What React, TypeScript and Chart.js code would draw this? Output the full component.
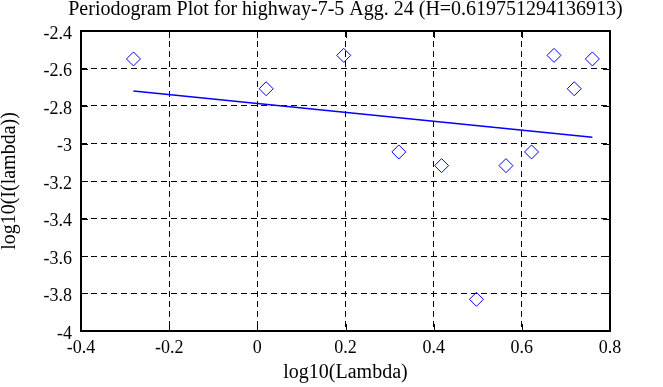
import React, { useEffect, useRef } from "react";
import { Chart, registerables } from "chart.js";

Chart.register(...registerables);

const titleText = "Periodogram Plot for highway-7-5 Agg. 24 (H=0.619751294136913)";
const xLabel = "log10(Lambda)";
const yLabel = "log10(I(lambda))";

const logLambda = [-0.281, 0.02, 0.196, 0.321, 0.418, 0.497, 0.564, 0.622, 0.673, 0.719, 0.76];
const logPeriodogram = [-2.549, -2.708, -2.53, -3.045, -3.118, -3.831, -3.118, -3.045, -2.53, -2.708, -2.549];

const fitX = [-0.281, 0.76];
const fitY = [-2.72, -2.967];

const xMin = -0.4, xMax = 0.8, xStep = 0.2;
const yMin = -4, yMax = -2.4, yStep = 0.2;

const FONT = "'Liberation Serif', 'Times New Roman', serif";

const fmt = (v: number) => {
  const r = Math.round(v * 10) / 10;
  return r === 0 ? "0" : String(r);
};

const framePlugin = {
  id: "frameTicks",
  beforeDatasetsDraw(chart: any) {
    const { ctx, chartArea } = chart;
    const { left, right, top, bottom } = chartArea;
    const xs = chart.scales.x;
    const ys = chart.scales.y;
    const len = 7;
    ctx.save();
    ctx.strokeStyle = "#000";
    ctx.lineWidth = 1;
    ctx.setLineDash([]);
    ctx.beginPath();
    xs.ticks.forEach((t: any) => {
      const px = Math.round(xs.getPixelForValue(t.value)) + 0.5;
      ctx.moveTo(px, top);
      ctx.lineTo(px, top + len);
      ctx.moveTo(px, bottom);
      ctx.lineTo(px, bottom - len);
    });
    ys.ticks.forEach((t: any) => {
      const py = Math.round(ys.getPixelForValue(t.value)) + 0.5;
      ctx.moveTo(left, py);
      ctx.lineTo(left + len, py);
      ctx.moveTo(right, py);
      ctx.lineTo(right - len, py);
    });
    ctx.stroke();
    ctx.lineWidth = 2;
    ctx.strokeRect(Math.round(left), Math.round(top), Math.round(right - left), Math.round(bottom - top));
    ctx.restore();
  },
};

const titlePlugin = {
  id: "centeredTitle",
  afterDraw(chart: any) {
    const { ctx, chartArea } = chart;
    ctx.save();
    ctx.fillStyle = "#000";
    ctx.font = `20px ${FONT}`;
    ctx.textAlign = "center";
    ctx.textBaseline = "alphabetic";
    ctx.fillText(titleText, (chartArea.left + chartArea.right) / 2, 15);
    ctx.restore();
  },
};

export default function App() {
  const ref = useRef<HTMLCanvasElement | null>(null);
  useEffect(() => {
    if (!ref.current) return;
    const chart = new Chart(ref.current, {
      type: "scatter",
      data: {
        datasets: [
          {
            label: "fit",
            type: "line",
            data: fitX.map((x, i) => ({ x, y: fitY[i] })),
            borderColor: "#0000ff",
            borderWidth: 1.5,
            pointRadius: 0,
            fill: false,
          } as any,
          {
            label: "periodogram",
            data: logLambda.map((x, i) => ({ x, y: logPeriodogram[i] })),
            pointStyle: "rectRot",
            pointRadius: 7,
            pointBorderWidth: 1,
            borderColor: "#0000ff",
            backgroundColor: "rgba(0,0,0,0)",
            pointBackgroundColor: "rgba(0,0,0,0)",
          },
        ],
      },
      options: {
        animation: false,
        responsive: false,
        maintainAspectRatio: false,
        layout: { padding: { top: 31, left: 0, right: 53, bottom: 0 } },
        plugins: {
          legend: { display: false },
          tooltip: { enabled: false },
          title: { display: false },
        },
        scales: {
          x: {
            type: "linear",
            min: xMin,
            max: xMax,
            afterFit: (s: any) => { s.height = 56; },
            ticks: {
              stepSize: xStep,
              color: "#000",
              padding: 6,
              maxRotation: 0,
              font: { family: FONT, size: 18 },
              callback: (v: any) => fmt(Number(v)),
            },
            grid: { color: "#000", lineWidth: 1, drawTicks: false, borderDash: [6, 4] } as any,
            border: { display: false, dash: [6, 4] },
            title: {
              display: true,
              text: xLabel,
              color: "#000",
              font: { family: FONT, size: 20, lineHeight: 1 },
              padding: { top: 0, bottom: 4 },
            },
          },
          y: {
            type: "linear",
            min: yMin,
            max: yMax,
            afterFit: (s: any) => { s.width = 81; },
            ticks: {
              stepSize: yStep,
              color: "#000",
              padding: 9,
              labelOffset: 3,
              font: { family: FONT, size: 18 },
              callback: (v: any) => fmt(Number(v)),
            },
            grid: { color: "#000", lineWidth: 1, drawTicks: false, borderDash: [6, 4] } as any,
            border: { display: false, dash: [6, 4] },
            title: {
              display: true,
              text: yLabel,
              color: "#000",
              font: { family: FONT, size: 20, lineHeight: 1 },
              padding: { top: 0, bottom: 0 },
            },
          },
        },
      },
      plugins: [framePlugin, titlePlugin],
    });
    return () => chart.destroy();
  }, []);
  return (
    <div style={{ position: "fixed", left: 0, top: 0, width: 663, height: 387, background: "#fff" }}>
      <canvas ref={ref} width={663} height={387} style={{ width: 663, height: 387, display: "block" }} />
    </div>
  );
}
